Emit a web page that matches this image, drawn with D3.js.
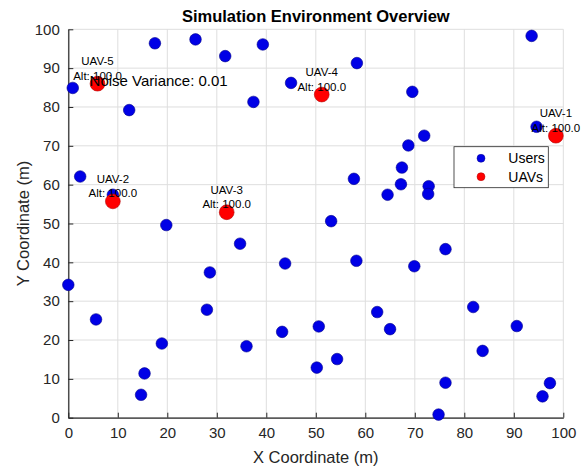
<!DOCTYPE html>
<html>
<head>
<meta charset="utf-8">
<script src="https://cdn.jsdelivr.net/npm/d3@7/dist/d3.min.js"></script>
<style>
  body { margin: 0; background: #fff; }
  svg { display: block; font-family: "Liberation Sans", Arial, sans-serif; }
</style>
</head>
<body>
<svg id="chart" width="588" height="467"></svg>
<script>
// Ground users (x, y in metres)
const userX = [0.9, 17.5, 25.7, 31.7, 39.3, 12.3, 37.4, 45.0, 58.3, 93.6,
               69.5, 71.9, 68.7, 94.6, 67.4, 57.7, 67.2, 72.8, 72.7, 64.5,
               53.1, 76.2, 58.2, 69.9, 43.8, 2.4, 19.8, 34.7, 28.6, 0.0,
               28.0, 9.0, 5.6, 18.9, 15.4, 14.7, 36.0, 43.2, 50.6, 50.2,
               54.3, 65.0, 62.4, 81.8, 90.6, 83.7, 76.2, 74.8, 97.3, 95.8];
const userY = [84.9, 96.4, 97.4, 93.1, 96.1, 79.2, 81.3, 86.2, 91.3, 98.3,
               83.9, 72.6, 70.1, 74.9, 64.4, 61.5, 60.1, 59.6, 57.6, 57.4,
               50.6, 43.4, 40.4, 39.0, 39.7, 62.1, 49.6, 44.8, 37.4, 34.2,
               27.8, 57.4, 25.3, 19.1, 11.4, 5.9, 18.4, 22.1, 23.5, 12.9,
               15.1, 22.8, 27.2, 28.5, 23.6, 17.2, 9.0, 0.8, 8.9, 5.5];

// UAVs
const uavNames = ["UAV-1", "UAV-2", "UAV-3", "UAV-4", "UAV-5"];
const uavX = [98.5, 9.0, 32.0, 51.2, 5.9];
const uavY = [72.6, 55.7, 52.9, 83.2, 86.0];
const uavAlt = [100.0, 100.0, 100.0, 100.0, 100.0];

const noiseVariance = 0.01;
const xTicks = [0, 10, 20, 30, 40, 50, 60, 70, 80, 90, 100];
const yTicks = [0, 10, 20, 30, 40, 50, 60, 70, 80, 90, 100];
const legendItems = ["Users", "UAVs"];

const margin = { left: 68.3, right: 588 - 563.3, top: 29.3, bottom: 467 - 417.7 };
const W = 588, H = 467;
const svg = d3.select("#chart");
const innerW = W - margin.left - margin.right;
const innerH = H - margin.top - margin.bottom;

const x = d3.scaleLinear().domain([0, 100]).range([margin.left, margin.left + innerW]);
const y = d3.scaleLinear().domain([0, 100]).range([margin.top + innerH, margin.top]);

const axisColor = "#262626";
const gridColor = "#dedede";
const userFill = "#0000e6", userStroke = "#00008c";
const uavFill = "#ff0000", uavStroke = "#b00000";

// grid
const grid = svg.append("g");
grid.selectAll("line.gx").data(xTicks).join("line")
  .attr("x1", d => x(d)).attr("x2", d => x(d))
  .attr("y1", y(0)).attr("y2", y(100))
  .attr("stroke", gridColor).attr("stroke-width", 1);
grid.selectAll("line.gy").data(yTicks).join("line")
  .attr("y1", d => y(d)).attr("y2", d => y(d))
  .attr("x1", x(0)).attr("x2", x(100))
  .attr("stroke", gridColor).attr("stroke-width", 1);

// axes (ticks point inward)
const xAxis = d3.axisBottom(x).tickValues(xTicks).tickSizeInner(-5).tickSizeOuter(0).tickPadding(10);
const yAxis = d3.axisLeft(y).tickValues(yTicks).tickSizeInner(-5).tickSizeOuter(0).tickPadding(10);

const gx = svg.append("g").attr("transform", `translate(0,${y(0)})`).call(xAxis);
const gy = svg.append("g").attr("transform", `translate(${x(0)},0)`).call(yAxis);
[gx, gy].forEach(g => {
  g.select(".domain").attr("stroke", axisColor).attr("stroke-width", 1.2);
  g.selectAll(".tick line").attr("stroke", axisColor);
  g.selectAll(".tick text").attr("fill", axisColor)
    .style("font-family", "'Liberation Sans', Arial, sans-serif").style("font-size", "15px");
});
gy.selectAll(".tick text").attr("dx", "0.1em");

// users
svg.append("g").selectAll("circle").data(d3.range(userX.length)).join("circle")
  .attr("cx", i => x(userX[i])).attr("cy", i => y(userY[i]))
  .attr("r", 5.8).attr("fill", userFill).attr("stroke", userStroke).attr("stroke-width", 0.6);

// UAVs
svg.append("g").selectAll("circle").data(d3.range(uavX.length)).join("circle")
  .attr("cx", i => x(uavX[i])).attr("cy", i => y(uavY[i]))
  .attr("r", 7.4).attr("fill", uavFill).attr("stroke", uavStroke).attr("stroke-width", 0.6);

// UAV labels
const lab = svg.append("g").attr("fill", "#000").style("font-size", "11.5px").attr("text-anchor", "middle");
uavX.forEach((ux, i) => {
  lab.append("text").attr("x", x(ux)).attr("y", y(uavY[i]) - 18.5).text(uavNames[i]);
  lab.append("text").attr("x", x(ux)).attr("y", y(uavY[i]) - 4).text(`Alt: ${uavAlt[i].toFixed(1)}`);
});

// noise annotation
svg.append("text").attr("x", x(4.3)).attr("y", y(86.7)).attr("dy", "0.35em")
  .style("font-size", "15px").attr("fill", "#000")
  .text(`Noise Variance: ${noiseVariance}`);

// title and axis labels
svg.append("text").attr("x", (x(0) + x(100)) / 2).attr("y", 21.5)
  .attr("text-anchor", "middle").style("font-size", "16.5px").style("font-weight", "bold")
  .attr("fill", "#000").text("Simulation Environment Overview");
svg.append("text").attr("x", (x(0) + x(100)) / 2).attr("y", 463)
  .attr("text-anchor", "middle").style("font-size", "16.5px").attr("fill", axisColor)
  .text("X Coordinate (m)");
svg.append("text").attr("transform", `translate(29,${(y(0) + y(100)) / 2}) rotate(-90)`)
  .attr("text-anchor", "middle").style("font-size", "16.5px").attr("fill", axisColor)
  .text("Y Coordinate (m)");

// legend
const lg = svg.append("g").attr("transform", "translate(454,146.7)");
lg.append("rect").attr("width", 94.3).attr("height", 41).attr("fill", "#fff")
  .attr("stroke", axisColor).attr("stroke-width", 0.8);
const legendFill = [userFill, uavFill];
const legendStroke = [userStroke, uavStroke];
legendItems.forEach((name, i) => {
  const cy = 11.6 + i * 18.4;
  lg.append("circle").attr("cx", 27).attr("cy", cy).attr("r", 4)
    .attr("fill", legendFill[i]).attr("stroke", legendStroke[i]).attr("stroke-width", 0.5);
  lg.append("text").attr("x", 54.3).attr("y", cy).attr("dy", "0.36em")
    .style("font-size", "14px").attr("fill", "#000").text(name);
});
</script>
</body>
</html>
